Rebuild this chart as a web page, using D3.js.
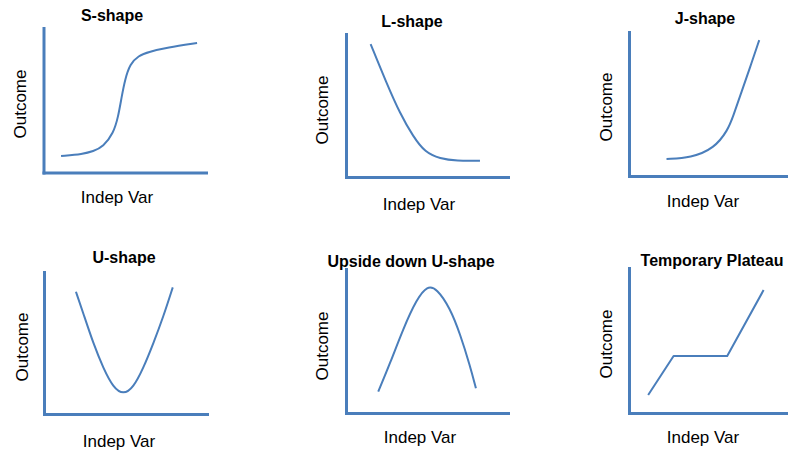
<!DOCTYPE html>
<html>
<head>
<meta charset="utf-8">
<script src="https://cdn.jsdelivr.net/npm/d3@7"></script>
<style>
  html, body { margin: 0; padding: 0; background: #fff; }
  svg { display: block; }
</style>
</head>
<body>
<svg id="chart" width="788" height="451"></svg>
<script>
// ---- data (x and y both on a 0–100 scale of each small panel) ----
const titles = ["S-shape", "L-shape", "J-shape", "U-shape", "Upside down U-shape", "Temporary Plateau"];
const xLabel = "Indep Var";
const yLabel = "Outcome";

const sShape = [[10.8,11.4],[24.3,12.8],[30.5,14.6],[36.8,17.9],[43.0,27.1],[46.0,38.6],[48.1,52.5],[50.2,64.5],[53.2,75.0],[58.3,80.8],[65.1,83.6],[76.0,86.4],[94.5,89.6]];
const lShape = [[15.2,93.0],[25.1,65.5],[33.3,44.5],[41.5,28.2],[48.8,17.2],[58.0,12.8],[68.3,11.2],[82.7,11.4]];
const jShape = [[23.3,11.8],[38.4,12.6],[53.0,19.2],[61.4,31.9],[64.6,41.2],[69.8,58.1],[75.0,74.8],[80.9,94.4]];
const uShape = [[19.6,86.1],[24.1,70.9],[30.2,49.8],[36.4,32.2],[42.5,18.6],[48.7,13.6],[54.8,18.6],[60.9,32.2],[67.1,49.8],[73.2,68.5],[79.0,89.2]];
const invUShape = [[19.9,14.8],[27.2,34.5],[35.4,58.8],[43.6,79.0],[50.2,88.5],[56.0,86.5],[64.2,73.0],[70.4,55.0],[76.5,33.0],[80.2,17.2]];
const plateau = [[11.9,12.4],[27.7,39.3],[61.0,39.3],[83.6,84.8]];

const series = [sShape, lShape, jShape, uShape, invUShape, plateau];
const smooth = [true, true, true, true, true, false];

// ---- layout (pixel geometry of each panel) ----
const layout = [
  {left: 43.5, right: 206, top: 28,  bottom: 172.5, titleX: 112, titleY: 21,  xlX: 117, xlY: 203, ylX: 26,  ylY: 104},
  {left: 346,  right: 508, top: 34,  bottom: 177,   titleX: 412, titleY: 27,  xlX: 419, xlY: 210, ylX: 328, ylY: 110},
  {left: 629,  right: 790, top: 32,  bottom: 176,   titleX: 705, titleY: 24,  xlX: 703, xlY: 207, ylX: 612, ylY: 107},
  {left: 44,   right: 207, top: 272, bottom: 414,   titleX: 124, titleY: 263, xlX: 119, xlY: 447, ylX: 28,  ylY: 347},
  {left: 346,  right: 508, top: 269, bottom: 413,   titleX: 411, titleY: 267, xlX: 420, xlY: 443, ylX: 328, ylY: 346},
  {left: 629,  right: 790, top: 268, bottom: 413,   titleX: 712, titleY: 266, xlX: 703, xlY: 443, ylX: 612, ylY: 344}
];

const blue = "#4a7ebb";
const font = "'Liberation Sans', Arial, sans-serif";
const svg = d3.select("#chart");

layout.forEach((L, i) => {
  const x = d3.scaleLinear().domain([0, 100]).range([L.left, L.right]);
  const y = d3.scaleLinear().domain([0, 100]).range([L.bottom, L.top]);
  const g = svg.append("g");

  // axes (domain lines only)
  const ax = g.append("g").attr("transform", `translate(0,${L.bottom})`)
    .call(d3.axisBottom(x).ticks(0).tickSizeOuter(0));
  const ay = g.append("g").attr("transform", `translate(${L.left},0)`)
    .call(d3.axisLeft(y).ticks(0).tickSizeOuter(0));
  [ax, ay].forEach(a => {
    a.select(".domain").attr("stroke", blue).attr("stroke-width", 3)
      .attr("stroke-linecap", "square");
  });

  // curve
  const line = d3.line().x(d => x(d[0])).y(d => y(d[1]))
    .curve(smooth[i] ? d3.curveBasis : d3.curveLinear);
  g.append("path").datum(series[i])
    .attr("d", line).attr("fill", "none")
    .attr("stroke", blue).attr("stroke-width", 2)
    .attr("stroke-linejoin", "round");

  // texts
  g.append("text").attr("x", L.titleX).attr("y", L.titleY)
    .attr("text-anchor", "middle").attr("font-family", font)
    .attr("font-weight", "bold").attr("font-size", 16)
    .attr("fill", "#000").text(titles[i]);
  g.append("text").attr("x", L.xlX).attr("y", L.xlY)
    .attr("text-anchor", "middle").attr("font-family", font)
    .attr("font-size", 17).attr("fill", "#000").text(xLabel);
  g.append("text").attr("transform", `translate(${L.ylX},${L.ylY}) rotate(-90)`)
    .attr("text-anchor", "middle").attr("font-family", font)
    .attr("font-size", 17).attr("fill", "#000").text(yLabel);
});
</script>
</body>
</html>
